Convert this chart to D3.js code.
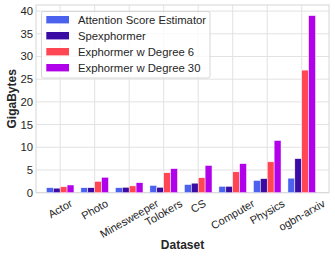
<!DOCTYPE html>
<html>
<head>
<meta charset="utf-8">
<script src="https://cdn.jsdelivr.net/npm/d3@7"></script>
<style>
  body { margin: 0; background: #fff; }
  text { font-family: "Liberation Sans", Arial, sans-serif; }
</style>
</head>
<body>
<div id="chart"></div>
<script>
// data
var datasets = ["Actor", "Photo", "Minesweeper", "Tolokers", "CS", "Computer", "Physics", "ogbn-arxiv"];
var seriesNames = ["Attention Score Estimator", "Spexphormer", "Exphormer w Degree 6", "Exphormer w Degree 30"];
var estimator = [1.1, 1.1, 1.1, 1.6, 1.8, 1.4, 2.7, 3.2];
var spexphormer = [1.0, 1.1, 1.2, 1.2, 2.1, 1.4, 3.1, 7.5];
var exphDeg6 = [1.3, 2.5, 1.5, 4.4, 3.3, 4.6, 6.8, 27.0];
var exphDeg30 = [1.7, 3.4, 2.2, 5.3, 6.0, 6.4, 11.5, 39.0];
var yTicks = [0, 5, 10, 15, 20, 25, 30, 35, 40];
var colors = ["#4a62ee", "#3a0ca3", "#ff4652", "#b100ea"];

var series = [estimator, spexphormer, exphDeg6, exphDeg30];

var W = 335, H = 257;
var plot = {left: 36, right: 329, top: 5, bottom: 192.7};

var svg = d3.select("#chart").append("svg")
    .attr("width", W)
    .attr("height", H);

// index scale, groups centered on integers
var x = d3.scaleLinear()
    .domain([-0.7, datasets.length - 1 + 0.79])
    .range([plot.left, plot.right]);
var y = d3.scaleLinear()
    .domain([0, 41.34])
    .range([plot.bottom, plot.top]);

var step = x(1) - x(0);
var barW = step * 0.2;

// grid
svg.append("g").selectAll("line")
    .data(yTicks)
  .enter().append("line")
    .attr("x1", plot.left).attr("x2", plot.right)
    .attr("y1", function(d) { return y(d); })
    .attr("y2", function(d) { return y(d); })
    .attr("stroke", "#e2e2e2").attr("stroke-width", 1);

svg.append("g").selectAll("line")
    .data(datasets)
  .enter().append("line")
    .attr("x1", function(d, i) { return x(i); })
    .attr("x2", function(d, i) { return x(i); })
    .attr("y1", plot.top).attr("y2", plot.bottom)
    .attr("stroke", "#e2e2e2").attr("stroke-width", 1);

// frame
svg.append("rect")
    .attr("x", plot.left).attr("y", plot.top)
    .attr("width", plot.right - plot.left)
    .attr("height", plot.bottom - plot.top)
    .attr("fill", "none")
    .attr("stroke", "#d6d6d6").attr("stroke-width", 1);

// bars
series.forEach(function(vals, s) {
  svg.append("g").selectAll("rect")
      .data(vals)
    .enter().append("rect")
      .attr("x", function(d, i) { return x(i) + (s - 2) * barW; })
      .attr("width", barW)
      .attr("y", function(d) { return y(d); })
      .attr("height", function(d) { return y(0) - y(d); })
      .attr("fill", colors[s])
      .attr("stroke", "#fff").attr("stroke-width", 0.5);
});

// y axis labels
svg.append("g").selectAll("text")
    .data(yTicks)
  .enter().append("text")
    .attr("x", plot.left - 3)
    .attr("y", function(d) { return y(d); })
    .attr("dy", "0.35em")
    .attr("text-anchor", "end")
    .style("font-size", "11.3px")
    .style("fill", "#262626")
    .text(function(d) { return d; });

// x tick labels, rotated and centered under the tick
var xl = svg.append("g").selectAll("text")
    .data(datasets)
  .enter().append("text")
    .attr("text-anchor", "middle")
    .attr("dy", "0.35em")
    .style("font-size", "11px")
    .style("fill", "#262626")
    .text(function(d) { return d; });

var ang = 30 * Math.PI / 180;
xl.each(function(d, i) {
  var len = this.getComputedTextLength();
  var hh = (len * Math.sin(ang) + 10 * Math.cos(ang)) / 2;
  var cx = x(i), cy = 198 + hh;
  d3.select(this)
    .attr("x", cx).attr("y", cy)
    .attr("transform", "rotate(-30," + cx + "," + cy + ")");
});

// axis titles
svg.append("text")
    .attr("transform", "translate(16," + ((plot.top + plot.bottom) / 2) + ") rotate(-90)")
    .attr("text-anchor", "middle")
    .style("font-size", "12px")
    .style("font-weight", "bold")
    .style("fill", "#262626")
    .text("GigaBytes");

svg.append("text")
    .attr("x", (plot.left + plot.right) / 2)
    .attr("y", 249)
    .attr("text-anchor", "middle")
    .style("font-size", "12px")
    .style("font-weight", "bold")
    .style("fill", "#262626")
    .text("Dataset");

// legend
var leg = svg.append("g");
leg.append("rect")
    .attr("x", 41.5).attr("y", 11.5)
    .attr("width", 168.5).attr("height", 66.5)
    .attr("rx", 2)
    .attr("fill", "#fff").attr("fill-opacity", 0.8)
    .attr("stroke", "#d6d6d6").attr("stroke-width", 1);

var items = leg.selectAll("g.item")
    .data(seriesNames)
  .enter().append("g")
    .attr("class", "item")
    .attr("transform", function(d, i) { return "translate(0," + (19.7 + i * 16) + ")"; });

items.append("rect")
    .attr("x", 46.3).attr("y", -3.7)
    .attr("width", 22.7).attr("height", 7.4)
    .attr("fill", function(d, i) { return colors[i]; });

items.append("text")
    .attr("x", 78)
    .attr("dy", "0.35em")
    .style("font-size", "11.3px")
    .style("fill", "#262626")
    .text(function(d) { return d; });
</script>
</body>
</html>
